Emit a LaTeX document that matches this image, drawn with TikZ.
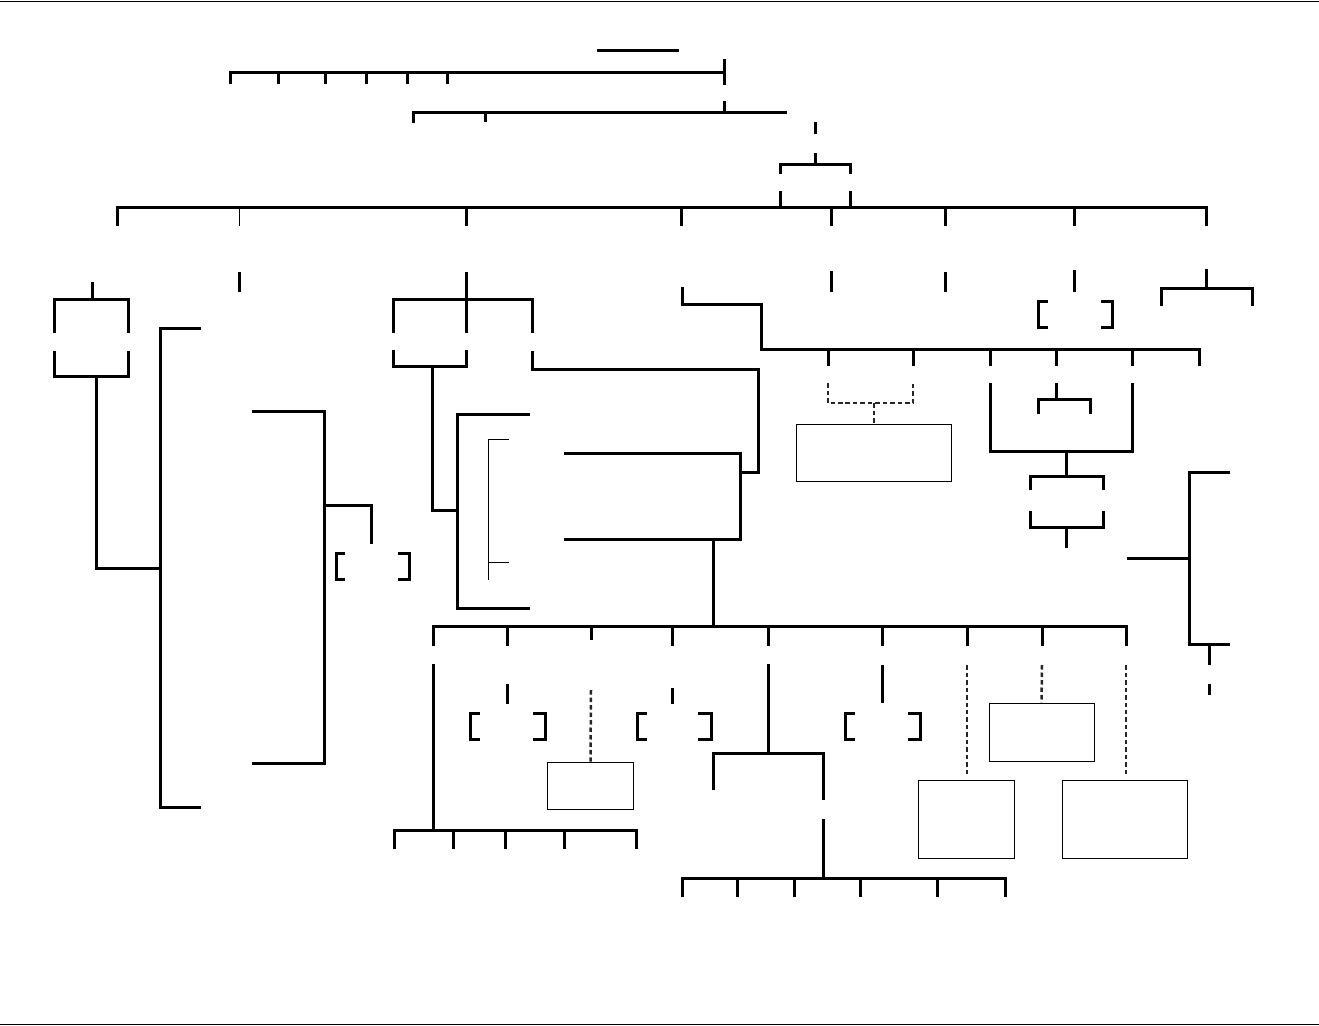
\documentclass[tikz,border=0pt]{standalone}
\begin{document}
\begin{tikzpicture}[x=0.02cm,y=-0.02cm,
  thk/.style={line width=0.06cm},
  thn/.style={line width=0.02cm},
  dsh/.style={line width=0.05cm,draw=black!85,dash pattern=on 0.09cm off 0.06cm},
  boxst/.style={draw,line width=0.02cm,inner sep=0pt}]
\useasboundingbox (0,0) rectangle (1319,1025);
% borders
\draw[thn] (0,1)--(1319,1);
\draw[thn] (0,1024)--(1319,1024);
% top
\draw[thk] (597,50)--(679,50);
\draw[thk] (230,84)--(230,72)--(724,72);
\foreach \x in {278,325,366,407,447} \draw[thk] (\x,72)--(\x,84);
\draw[thk] (724,59)--(724,85);
\draw[thk] (724,101)--(724,112);
\draw[thk] (413,123)--(413,112)--(787,112);
\draw[thk] (485,112)--(485,122);
\draw[thk] (815,122)--(815,134);
\draw[thk] (815,153)--(815,164);
\draw[thk] (780,174)--(780,164)--(850,164)--(850,174);
\draw[thk] (780,191)--(780,207);
\draw[thk] (850,191)--(850,207);
\draw[thk] (117,226)--(117,207)--(1206,207)--(1206,226);
\foreach \x in {466,681,831,945,1074} \draw[thk] (\x,207)--(\x,226);
\draw[thn] (239,207)--(239,226);
% left part
\draw[thk] (92,282)--(92,299);
\draw[thk] (54,333)--(54,299)--(128,299)--(128,333);
\draw[thk] (54,351)--(54,376)--(128,376)--(128,351);
\draw[thk] (96,376)--(96,568)--(160,568);
\draw[thk] (201,328)--(160,328)--(160,807)--(201,807);
\draw[thk] (239,272)--(239,292);
\draw[thk] (252,411)--(324,411)--(324,763)--(252,763);
\draw[thk] (324,505)--(371,505)--(371,544);
\draw[thk] (345,553)--(336,553)--(336,579)--(345,579);
\draw[thk] (398,553)--(409,553)--(409,579)--(398,579);
% middle
\draw[thk] (466,272)--(466,333);
\draw[thk] (393,333)--(393,299)--(532,299)--(532,333);
\draw[thk] (393,350)--(393,366)--(466,366)--(466,350);
\draw[thk] (432,366)--(432,510)--(457,510);
\draw[thk] (530,414)--(457,414)--(457,608)--(530,608);
\draw[thn] (509,439)--(488,439)--(488,580);
\draw[thn] (488,562)--(509,562);
\draw[thk] (532,351)--(532,369)--(758,369)--(758,472)--(740,472);
\draw[thk] (564,453)--(740,453)--(740,539)--(564,539);
\draw[thk] (713,539)--(713,626);
\draw[thk] (433,646)--(433,626)--(1126,626)--(1126,646);
\draw[thk] (591,626)--(591,640);
\foreach \x in {507,672,768,882,967,1042} \draw[thk] (\x,626)--(\x,646);
% right upper
\draw[thk] (682,287)--(682,304)--(761,304)--(761,349)--(1199,349)--(1199,366);
\foreach \x in {828,913,990,1056,1132} \draw[thk] (\x,349)--(\x,366);
\draw[thk] (831,271)--(831,292);
\draw[thk] (945,272)--(945,292);
\draw[thk] (1074,270)--(1074,292);
\draw[thk] (1048,301)--(1038,301)--(1038,327)--(1048,327);
\draw[thk] (1101,301)--(1112,301)--(1112,327)--(1101,327);
\draw[thk] (1206,269)--(1206,288);
\draw[thk] (1161,306)--(1161,288)--(1252,288)--(1252,306);
\node[boxst,minimum width=3.12cm,minimum height=1.14cm] (b1) at (874,452.5) {};
\draw[dsh] (828,383)--(828,403)--(913,403)--(913,383);
\draw[dsh] (874,403)--(b1.north);
\draw[thk] (990,383)--(990,451)--(1132,451)--(1132,383);
\draw[thk] (1056,383)--(1056,399);
\draw[thk] (1038,414)--(1038,399)--(1090,399)--(1090,414);
\draw[thk] (1066,451)--(1066,476);
\draw[thk] (1030,490)--(1030,476)--(1103,476)--(1103,490);
\draw[thk] (1030,511)--(1030,527)--(1103,527)--(1103,511);
\draw[thk] (1066,527)--(1066,548);
\draw[thk] (1230,472)--(1189,472)--(1189,644)--(1230,644);
\draw[thk] (1127,558)--(1189,558);
\draw[thk] (1209,644)--(1209,665);
\draw[thk] (1209,684)--(1209,695);
% lower
\draw[thk] (433,664)--(433,830);
\draw[thk] (394,849)--(394,830)--(636,830)--(636,849);
\foreach \x in {453,505,564} \draw[thk] (\x,830)--(\x,849);
\draw[thk] (507,684)--(507,704);
\draw[thk] (480,713)--(470,713)--(470,739)--(480,739);
\draw[thk] (533,713)--(545,713)--(545,739)--(533,739);
\node[boxst,minimum width=1.74cm,minimum height=0.94cm] (b2) at (590.5,785.5) {};
\draw[dsh] (591,690)--(b2.north);
\draw[thk] (672,688)--(672,704);
\draw[thk] (647,713)--(637,713)--(637,739)--(647,739);
\draw[thk] (698,713)--(711,713)--(711,739)--(698,739);
\draw[thk] (768,664)--(768,753);
\draw[thk] (713,790)--(713,753)--(823,753)--(823,800);
\draw[thk] (823,819)--(823,878);
\draw[thk] (682,897)--(682,878)--(1005,878)--(1005,897);
\foreach \x in {737,794,860,937} \draw[thk] (\x,878)--(\x,897);
\draw[thk] (882,665)--(882,703);
\draw[thk] (855,713)--(845,713)--(845,739)--(855,739);
\draw[thk] (908,713)--(920,713)--(920,739)--(908,739);
\node[boxst,minimum width=1.92cm,minimum height=1.56cm] (b3) at (966,819) {};
\node[boxst,minimum width=2.10cm,minimum height=1.16cm] (b4) at (1041.5,732) {};
\node[boxst,minimum width=2.52cm,minimum height=1.56cm] (b5) at (1125,819) {};
\draw[dsh] (967,665)--(967,777);
\draw[dsh] (1042,665)--(b4.north);
\draw[dsh] (1126,665)--(1126,777);
\end{tikzpicture}
\end{document}
